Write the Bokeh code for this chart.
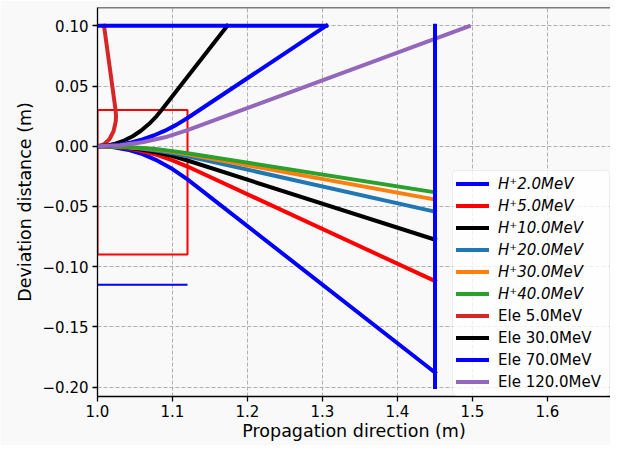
from bokeh.plotting import figure
from bokeh.models import (Range1d, FixedTicker, CustomJSTickFormatter, Legend,
                          LegendItem, BoxAnnotation, Span)
from bokeh.embed import file_html
from bokeh.resources import INLINE

# ---------------- data ----------------
# proton trajectories (deflected downward), common x samples
h_x = [1.0, 1.02, 1.04, 1.06, 1.08, 1.10, 1.12, 1.45]
h2_y = [0.0, -0.0007, -0.0029, -0.0066, -0.0120, -0.0190, -0.0275, -0.1880]
h5_y = [0.0, -0.0005, -0.0018, -0.0042, -0.0074, -0.0117, -0.0169, -0.1120]
h10_y = [0.0, -0.0003, -0.0013, -0.0029, -0.0052, -0.0082, -0.0119, -0.0776]
h20_y = [0.0, -0.0002, -0.0009, -0.0021, -0.0037, -0.0058, -0.0083, -0.0544]
h30_y = [0.0, -0.0002, -0.0008, -0.0017, -0.0030, -0.0047, -0.0068, -0.0443]
h40_y = [0.0, -0.0002, -0.0007, -0.0015, -0.0026, -0.0041, -0.0059, -0.0383]

# electron trajectories (deflected upward)
e5_x = [1.0, 1.0085, 1.0159, 1.0214, 1.0243, 1.0247, 1.0243, 1.0241, 1.0087]
e5_y = [0.0, 0.0015, 0.0058, 0.0124, 0.0204, 0.0247, 0.0290, 0.0300, 0.1000]
e30_x = [1.0, 1.0119, 1.0238, 1.0355, 1.0469, 1.0579, 1.0685, 1.0786, 1.0855, 1.1730]
e30_y = [0.0, 0.0005, 0.0021, 0.0047, 0.0083, 0.0128, 0.0184, 0.0248, 0.0300, 0.1000]
e70_x = [1.0, 1.015, 1.03, 1.045, 1.06, 1.075, 1.09, 1.105, 1.12, 1.305]
e70_y = [0.0, 0.0004, 0.0014, 0.0032, 0.0057, 0.0089, 0.0129, 0.0177, 0.0234, 0.1000]
e120_x = [1.0, 1.03, 1.06, 1.09, 1.12, 1.495]
e120_y = [0.0, 0.0008, 0.0033, 0.0074, 0.0133, 0.0995]

# setup elements
wall_x = [1.0, 1.305]
wall_y = [0.10, 0.10]
screen_x = [1.45, 1.45]
screen_y = [0.10, -0.20]
magnet_x = [1.0, 1.12, 1.12, 1.0, 1.0]
magnet_y = [0.03, 0.03, -0.09, -0.09, 0.03]
mark_x = [1.0, 1.12]
mark_y = [-0.115, -0.115]

h_labels = ["H\u207a2.0MeV", "H\u207a5.0MeV", "H\u207a10.0MeV",
            "H\u207a20.0MeV", "H\u207a30.0MeV", "H\u207a40.0MeV"]
e_labels = ["Ele 5.0MeV", "Ele 30.0MeV", "Ele 70.0MeV", "Ele 120.0MeV"]
h_colors = ["#0000ff", "#ff0000", "#000000", "#1f77b4", "#ff7f0e", "#2ca02c"]
e_colors = ["#d62728", "#000000", "#0000ff", "#9467bd"]

x_ticks = [1.0, 1.1, 1.2, 1.3, 1.4, 1.5, 1.6, 1.7]
y_ticks = [-0.20, -0.15, -0.10, -0.05, 0.0, 0.05, 0.10]

# ---------------- layout ----------------
W, H = 610, 445
FL, FT, FB_PANEL = 97, 7, 49          # frame left / top / bottom panel (px)
FW = W - FL                            # frame width
FH = H - FT - FB_PANEL                 # frame height
PX_PER_X = 750.0                       # px per unit on x
PX_PER_Y = 1204.0                      # px per unit on y
X0 = 1.0
X1 = X0 + FW / PX_PER_X
Y1 = 0.10 + (25.3 - FT) / PX_PER_Y
Y0 = Y1 - FH / PX_PER_Y

BG = "#f9f9f9"
FONT = "DejaVu Sans"

p = figure(width=W, height=H, output_backend="svg", toolbar_location=None,
           x_range=Range1d(X0, X1), y_range=Range1d(Y0, Y1),
           min_border_left=FL, min_border_right=0, min_border_top=FT,
           min_border_bottom=FB_PANEL,
           background_fill_color=BG, border_fill_color=BG)
p.outline_line_color = None

for ax in (p.xaxis[0], p.yaxis[0]):
    ax.axis_line_color = "black"
    ax.axis_line_width = 1.3
    ax.major_tick_line_color = "black"
    ax.major_tick_line_width = 1.3
    ax.major_tick_out = 5
    ax.major_tick_in = 0
    ax.minor_tick_line_color = None
    ax.major_label_text_font = FONT
    ax.major_label_text_font_size = "15px"
    ax.major_label_text_color = "black"
    ax.major_label_standoff = 3
    ax.axis_label_text_font = FONT
    ax.axis_label_text_font_size = "17.5px"
    ax.axis_label_text_font_style = "normal"
    ax.axis_label_text_color = "black"
    ax.axis_label_standoff = 1
p.yaxis[0].major_label_standoff = 4
p.yaxis[0].axis_label_standoff = 5

p.xaxis[0].ticker = FixedTicker(ticks=x_ticks)
p.yaxis[0].ticker = FixedTicker(ticks=y_ticks)
p.xaxis[0].formatter = CustomJSTickFormatter(code="return tick.toFixed(1);")
p.yaxis[0].formatter = CustomJSTickFormatter(
    code="return tick.toFixed(2).replace('-', '\u2212');")
p.xaxis[0].axis_label = "Propagation direction (m)"
p.yaxis[0].axis_label = "Deviation distance (m)"

for g in (p.xgrid[0], p.ygrid[0]):
    g.grid_line_color = "#b0b0b0"
    g.grid_line_width = 1
    g.grid_line_dash = "4 2"
p.xgrid[0].ticker = FixedTicker(ticks=x_ticks)
p.ygrid[0].ticker = FixedTicker(ticks=y_ticks)

# top spine
p.add_layout(Span(location=Y1, dimension="width", line_color="black", line_width=1.3))

# magnet box
p.line(magnet_x, magnet_y, line_color="#ff0000", line_width=2)

style = dict(line_width=4, line_cap="square", line_join="round")
h_series = [h2_y, h5_y, h10_y, h20_y, h30_y, h40_y]
h_r = []
for ys, c in zip(h_series, h_colors):
    h_r.append(p.line(h_x, ys, line_color=c, **style))
e_series = [(e5_x, e5_y), (e30_x, e30_y), (e70_x, e70_y), (e120_x, e120_y)]
e_r = []
for (xs, ys), c in zip(e_series, e_colors):
    e_r.append(p.line(xs, ys, line_color=c, **style))

# detectors
p.line(wall_x, wall_y, line_color="#0000ff", **style)
p.line(screen_x, screen_y, line_color="#0000ff", **style)
p.line(mark_x, mark_y, line_color="#0000ff", line_width=2)

# legend frame, in canvas pixels -> data coordinates
L_LEFT, L_RIGHT, L_TOP, L_BOT = 452.0, 609.0, 170.0, 395.0
def cx(px):
    return X0 + (px - FL) / PX_PER_X
def cy(py):
    return Y1 - (py - FT) / PX_PER_Y
p.add_layout(BoxAnnotation(left=cx(L_LEFT), right=cx(L_RIGHT),
                           top=cy(L_TOP), bottom=cy(L_BOT),
                           fill_color="white", fill_alpha=0.8,
                           line_color="#cccccc", line_width=1, border_radius=4))

FRAME_BOTTOM = FT + FH
common = dict(label_text_font=FONT, label_text_font_size="15px",
              label_text_color="black", glyph_width=33, glyph_height=19,
              label_height=19, label_standoff=9, padding=4, spacing=3,
              margin=0, background_fill_alpha=0, border_line_alpha=0)
A_H = 8 + 6 * 19 + 5 * 3
B_H = 8 + 4 * 19 + 3 * 3
lx = int(L_LEFT - FL)
b_bottom = L_BOT
a_bottom = L_TOP + A_H
leg_a = Legend(items=[LegendItem(label=l, renderers=[r]) for l, r in zip(h_labels, h_r)],
               location=(lx, int(round(FRAME_BOTTOM - a_bottom))),
               label_text_font_style="italic", **common)
leg_b = Legend(items=[LegendItem(label=l, renderers=[r]) for l, r in zip(e_labels, e_r)],
               location=(lx, int(round(FRAME_BOTTOM - b_bottom))), **common)
p.add_layout(leg_a)
p.add_layout(leg_b)

open("out.html", "w").write(file_html(p, INLINE))
